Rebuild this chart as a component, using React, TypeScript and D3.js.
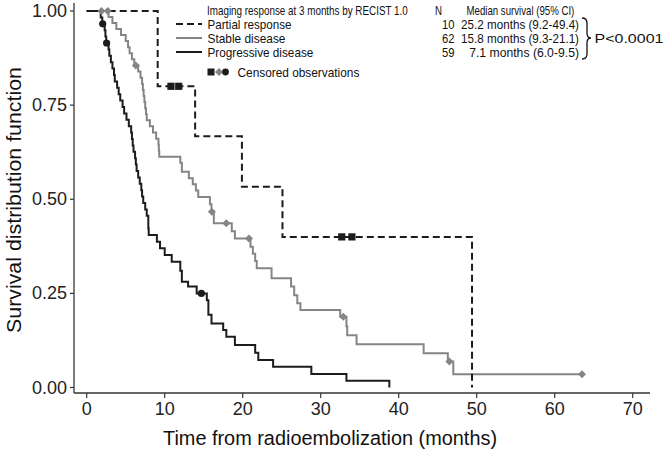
import React from "react";
import * as d3 from "d3";

const W = 666;
const H = 453;

// Kaplan-Meier step data: [time (months), survival after the drop]
const partialSteps: [number, number][] = [
  [9.1, 0.8], [13.9, 0.667], [19.9, 0.533], [25.1, 0.4], [49.4, 0],
];
const partialEnd = 49.4;
const partialCensored = [10.8, 11.8, 32.7, 34.0];

const stableSteps: [number, number][] = [
  [2.8, 0.984], [3.3, 0.968], [3.8, 0.952], [4.4, 0.936], [5.0, 0.92], [5.3, 0.904],
  [5.5, 0.888], [5.8, 0.872], [6.1, 0.855], [6.6, 0.839], [6.9, 0.823], [7.1, 0.806],
  [7.2, 0.79], [7.3, 0.774], [7.4, 0.758], [7.5, 0.742], [7.6, 0.726], [7.7, 0.71],
  [8.1, 0.694], [8.5, 0.677], [8.9, 0.661], [9.2, 0.645], [9.25, 0.629], [9.3, 0.613],
  [12.0, 0.597], [12.2, 0.573], [13.1, 0.556], [13.6, 0.54], [14.0, 0.523], [14.3, 0.506],
  [15.8, 0.487], [16.0, 0.467], [16.3, 0.436], [18.6, 0.415], [19.0, 0.396],
  [21.0, 0.374], [21.3, 0.355], [21.6, 0.336], [21.8, 0.317], [23.7, 0.29],
  [26.2, 0.268], [26.6, 0.245], [27.0, 0.224], [27.4, 0.206], [32.5, 0.188],
  [33.3, 0.163], [33.4, 0.139], [34.6, 0.115], [43.2, 0.091], [46.3, 0.069], [47.0, 0.035],
];
const stableEnd = 63.5;
const stableCensored = [1.9, 2.7, 6.3, 16.05, 17.9, 20.8, 32.9, 46.5, 63.5];

const progSteps: [number, number][] = [
  [1.8, 0.983], [2.0, 0.966], [2.3, 0.949], [2.4, 0.932], [2.5, 0.915], [2.8, 0.898],
  [2.9, 0.881], [3.1, 0.864], [3.3, 0.847], [3.5, 0.83], [3.6, 0.813], [3.9, 0.796],
  [4.1, 0.779], [4.3, 0.762], [4.6, 0.745], [4.8, 0.728], [5.1, 0.711], [5.4, 0.694],
  [5.7, 0.677], [5.8, 0.66], [5.9, 0.643], [6.0, 0.626], [6.2, 0.609], [6.3, 0.592],
  [6.4, 0.575], [6.6, 0.558], [6.8, 0.541], [7.0, 0.524], [7.1, 0.507], [7.25, 0.49],
  [7.5, 0.473], [7.7, 0.456], [7.9, 0.422], [7.95, 0.405], [9.0, 0.387], [9.4, 0.37],
  [10.0, 0.352], [10.9, 0.334], [12.0, 0.31], [12.2, 0.281], [13.0, 0.268], [14.1, 0.25],
  [15.4, 0.232], [15.6, 0.193], [16.0, 0.17], [17.5, 0.153], [17.9, 0.135], [19.0, 0.113],
  [21.6, 0.092], [22.0, 0.073], [23.9, 0.055], [28.8, 0.036], [33.3, 0.018], [38.8, 0],
];
const progEnd = 38.8;
const progCensored = [2.05, 2.55, 14.7];

const xTicks = [0, 10, 20, 30, 40, 50, 60, 70];
const yTicks = [0, 0.25, 0.5, 0.75, 1.0];
const yTickLabels = ["0.00", "0.25", "0.50", "0.75", "1.00"];

const legendTitle = "Imaging response at 3 months by RECIST 1.0";
const legendGroups = ["Partial response", "Stable disease", "Progressive disease"];
const legendN = ["10", "62", "59"];
const legendMedian = ["25.2 months (9.2-49.4)", "15.8 months (9.3-21.1)", "7.1 months (6.0-9.5)"];
const pValue = "P<0.0001";

const x = d3.scaleLinear().domain([0, 70]).range([86.7, 632.7]);
const y = d3.scaleLinear().domain([0, 1]).range([387.5, 11]);

function survAt(steps: [number, number][], t: number) {
  let s = 1;
  for (const [tt, ss] of steps) {
    if (tt <= t) s = ss;
  }
  return s;
}

function stepPath(steps: [number, number][], end: number) {
  const pts: [number, number][] = [[0, 1], ...steps];
  const last = pts[pts.length - 1];
  if (last[0] < end) pts.push([end, last[1]]);
  const line = d3
    .line<[number, number]>()
    .x((d) => x(d[0]))
    .y((d) => y(d[1]))
    .curve(d3.curveStepAfter);
  return line(pts) || "";
}

const DARK = "#1c1c1c";
const GRAY = "#858585";
const AXIS = "#333";
const SANS = "'Liberation Sans', Arial, sans-serif";
const LEG_FS = 12.5;

let ctx: CanvasRenderingContext2D | null = null;
function measure(s: string, fs: number) {
  if (!ctx) {
    const c = document.createElement("canvas");
    ctx = c.getContext("2d");
  }
  if (!ctx) return s.length * fs * 0.5;
  ctx.font = `${fs}px 'Liberation Sans', Arial, sans-serif`;
  return ctx.measureText(s).width;
}

function Diamond({ cx, cy, r, fill }: { cx: number; cy: number; r: number; fill: string }) {
  return <path d={`M${cx},${cy - r}L${cx + r},${cy}L${cx},${cy + r}L${cx - r},${cy}Z`} fill={fill} />;
}

// condensed text: horizontally scaled so that it spans width w
function NText({ x: tx, y: ty, w, anchor, children }: { x: number; y: number; w: number; anchor?: string; children: string }) {
  const nat = measure(children, LEG_FS);
  const k = nat > 0 ? w / nat : 1;
  return (
    <text
      transform={`translate(${tx},${ty}) scale(${k},1)`}
      textAnchor={anchor || "start"}
      fontSize={LEG_FS}
    >
      {children}
    </text>
  );
}

export default function App() {
  const rowY = [24, 38, 52];
  const groupW = [84, 78, 106];
  const medW = [118, 118, 110];
  return (
    <svg width={W} height={H} style={{ position: "absolute", left: 0, top: 0, background: "#fff" }}>
      {/* axes */}
      <line x1={74} y1={3} x2={74} y2={393} stroke={AXIS} strokeWidth={1.3} />
      <line x1={74} y1={393} x2={650} y2={393} stroke={AXIS} strokeWidth={1.3} />
      {yTicks.map((v, i) => (
        <g key={"yt" + i}>
          <line x1={70} x2={74} y1={y(v)} y2={y(v)} stroke={AXIS} strokeWidth={1.2} />
          <text x={67} y={y(v) + 6} textAnchor="end" fontSize={18} fontFamily={SANS} fill="#222">
            {yTickLabels[i]}
          </text>
        </g>
      ))}
      {xTicks.map((v) => (
        <g key={"xt" + v}>
          <line x1={x(v)} x2={x(v)} y1={393} y2={398} stroke={AXIS} strokeWidth={1.2} />
          <text x={x(v)} y={415} textAnchor="middle" fontSize={18} fontFamily={SANS} fill="#222">
            {v}
          </text>
        </g>
      ))}
      <text x={330} y={445} textAnchor="middle" fontSize={20.5} fontFamily={SANS} fill="#111"
        textLength={334} lengthAdjust="spacingAndGlyphs">
        Time from radioembolization (months)
      </text>
      <text
        transform="translate(21,200) rotate(-90)"
        textAnchor="middle"
        fontSize={20.5}
        fontFamily={SANS}
        fill="#111"
        textLength={266}
        lengthAdjust="spacingAndGlyphs"
      >
        Survival distribution function
      </text>

      {/* curves */}
      <path d={stepPath(stableSteps, stableEnd)} fill="none" stroke={GRAY} strokeWidth={2} />
      <path d={stepPath(progSteps, progEnd)} fill="none" stroke={DARK} strokeWidth={2} />
      <path
        d={stepPath(partialSteps, partialEnd)}
        fill="none"
        stroke={DARK}
        strokeWidth={2}
        strokeDasharray="7,4"
      />

      {/* censored marks */}
      {stableCensored.map((t, i) => (
        <Diamond key={"sc" + i} cx={x(t)} cy={y(survAt(stableSteps, t))} r={4} fill={GRAY} />
      ))}
      {progCensored.map((t, i) => (
        <circle key={"pc" + i} cx={x(t)} cy={y(survAt(progSteps, t))} r={3.6} fill={DARK} />
      ))}
      {partialCensored.map((t, i) => (
        <rect
          key={"prc" + i}
          x={x(t) - 3.6}
          y={y(survAt(partialSteps, t)) - 3.6}
          width={7.2}
          height={7.2}
          fill={DARK}
        />
      ))}

      {/* legend */}
      <g fontFamily={SANS} fill="#111">
        <NText x={207} y={15} w={201}>{legendTitle}</NText>
        <NText x={435} y={15} w={7}>N</NText>
        <NText x={466.5} y={15} w={108}>Median survival (95% CI)</NText>
        {legendGroups.map((g, i) => (
          <g key={"lg" + i}>
            <line
              x1={176}
              x2={202}
              y1={rowY[i]}
              y2={rowY[i]}
              stroke={i === 1 ? GRAY : DARK}
              strokeWidth={2}
              strokeDasharray={i === 0 ? "7,4" : undefined}
            />
            <NText x={207.5} y={rowY[i] + 4.5} w={groupW[i]}>{g}</NText>
            <NText x={454.5} y={rowY[i] + 4.5} anchor="end" w={12.5}>{legendN[i]}</NText>
            <NText x={579} y={rowY[i] + 4.5} anchor="end" w={medW[i]}>{legendMedian[i]}</NText>
          </g>
        ))}
        <path
          d="M582,18 Q587,18 587,23 L587,33 Q587,38 591,38 Q587,38 587,43 L587,54 Q587,59 582,59"
          fill="none"
          stroke="#111"
          strokeWidth={1.3}
        />
        <NText x={594.5} y={42.5} w={69}>{pValue}</NText>
        <rect x={207.5} y={68.5} width={7} height={7} fill={DARK} />
        <Diamond cx={219} cy={72} r={4} fill={GRAY} />
        <circle cx={225.5} cy={72} r={3.4} fill={DARK} />
        <NText x={237.5} y={76.5} w={122}>Censored observations</NText>
      </g>
    </svg>
  );
}
